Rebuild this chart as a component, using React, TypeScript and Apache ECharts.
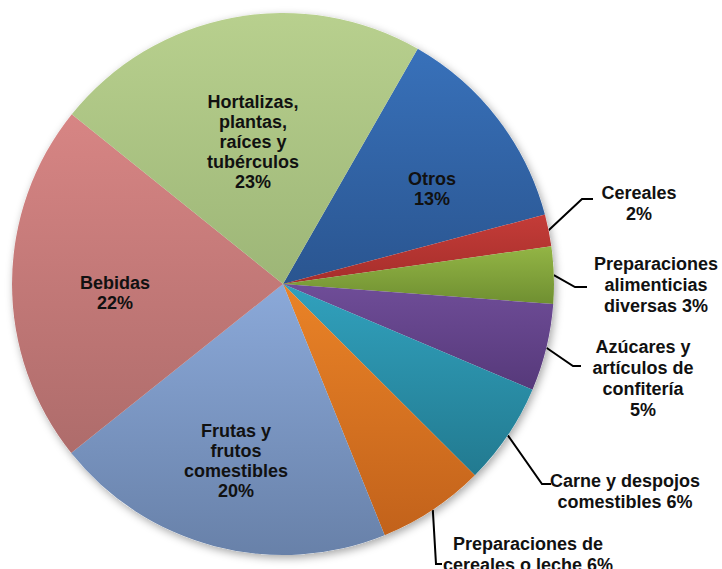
import React, { useEffect, useRef } from "react";
import * as echarts from "echarts";

// ---- data ----
const categories = [
  "Otros",
  "Cereales",
  "Preparaciones alimenticias diversas",
  "Azúcares y artículos de confitería",
  "Carne y despojos comestibles",
  "Preparaciones de cereales o leche",
  "Frutas y frutos comestibles",
  "Bebidas",
  "Hortalizas, plantas, raíces y tubérculos",
];
const values = [12.6, 1.9, 3.4, 5.2, 6.1, 6.4, 20.4, 21.5, 22.5];
const labelTemplates = [
  "Otros\n{p}",
  "Cereales\n{p}",
  "Preparaciones\nalimenticias\ndiversas {p}",
  "Azúcares y\nartículos de\nconfitería\n{p}",
  "Carne y despojos\ncomestibles {p}",
  "Preparaciones de\ncereales o leche {p}",
  "Frutas y\nfrutos\ncomestibles\n{p}",
  "Bebidas\n{p}",
  "Hortalizas,\nplantas,\nraíces y\ntubérculos\n{p}",
];

// ---- styles / layout ----
const gradientTop = ["#3871BA", "#C43C38", "#93B545", "#6F4D98", "#31A1BD", "#EA8327", "#8BA9D9", "#D78584", "#B8D08E"];
const gradientBottom = ["#2A5590", "#A62E2B", "#6F8F31", "#56397A", "#227A90", "#C2621B", "#6881A9", "#AE6C6B", "#9DB677"];
const insideIdx = [0, 6, 7, 8];
const CX = 283;
const CY = 284;
const R = 271;
const START = 60.2; // echarts startAngle (deg, ccw from 3 o'clock)

type Anchor = { x: number; y: number; elbow?: number[]; end?: number[] };
const anchors: Record<number, Anchor> = {
  0: { x: 432, y: 189 },
  1: { x: 639, y: 203, elbow: [582, 199], end: [593, 199] },
  2: { x: 656, y: 285, elbow: [575, 287], end: [587, 287] },
  3: { x: 643, y: 378, elbow: [573, 366], end: [581, 366] },
  4: { x: 625, y: 491, elbow: [542, 484], end: [551, 484] },
  5: { x: 528, y: 554, elbow: [436, 564], end: [442, 564] },
  6: { x: 236, y: 461 },
  7: { x: 115, y: 292.5 },
  8: { x: 253, y: 142 },
};

const FONT = "'Liberation Sans', Arial, sans-serif";

export default function App() {
  const ref = useRef<HTMLDivElement>(null);
  useEffect(() => {
    const chart = echarts.init(ref.current!, null, { renderer: "svg" });
    const total = values.reduce((a, b) => a + b, 0);
    // mid angles, measured clockwise from 12 o'clock
    const startCw = 90 - START;
    let acc = 0;
    const mids = values.map((v) => {
      const a = startCw + ((acc + v / 2) / total) * 360;
      acc += v;
      return a;
    });
    chart.setOption({
      animation: false,
      backgroundColor: "#ffffff",
      series: [
        {
          // soft drop shadow under the pie
          type: "pie",
          center: [CX, CY],
          radius: R,
          startAngle: START,
          clockwise: true,
          silent: true,
          label: { show: false },
          labelLine: { show: false },
          itemStyle: {
            color: "#ffffff",
            shadowBlur: 8,
            shadowOffsetX: 2,
            shadowOffsetY: 3,
            shadowColor: "rgba(0,0,0,0.35)",
          },
          data: categories.map((name, i) => ({ name, value: values[i] })),
        },
        {
          type: "pie",
          center: [CX, CY],
          radius: R,
          startAngle: START,
          clockwise: true,
          avoidLabelOverlap: false,
          label: {
            fontFamily: FONT,
            fontWeight: "bold",
            fontSize: 18,
            color: "#111111",
            formatter: (p: any) =>
              labelTemplates[p.dataIndex].replace("{p}", Math.round(p.percent) + "%"),
          },
          labelLine: {
            length: 20,
            length2: 10,
            smooth: false,
            lineStyle: { color: "#000000", width: 2 },
          },
          labelLayout: (params: any) => {
            if (params.seriesIndex !== 1) return {};
            const i = params.dataIndex;
            const a = anchors[i];
            const out: any = { x: a.x, y: a.y, align: "center", verticalAlign: "middle" };
            if (a.elbow) {
              const rad = (mids[i] * Math.PI) / 180;
              const p0 = [CX + R * Math.sin(rad), CY - R * Math.cos(rad)];
              out.labelLinePoints = [p0, a.elbow, a.end];
            }
            return out;
          },
          data: categories.map((name, i) => {
            const inside = insideIdx.includes(i);
            return {
              name,
              value: values[i],
              itemStyle: {
                color: new echarts.graphic.LinearGradient(0, 0, 0, 1, [
                  { offset: 0, color: gradientTop[i] },
                  { offset: 1, color: gradientBottom[i] },
                ]),
                borderWidth: 0,
              },
              label: {
                position: inside ? "inside" : "outside",
                lineHeight: inside ? 20 : 21,
                align: "center",
              },
              labelLine: { show: !inside },
            };
          }),
        },
      ],
    });
    return () => chart.dispose();
  }, []);
  return (
    <div
      ref={ref}
      style={{ position: "absolute", left: 0, top: 0, width: 722, height: 569 }}
    />
  );
}
